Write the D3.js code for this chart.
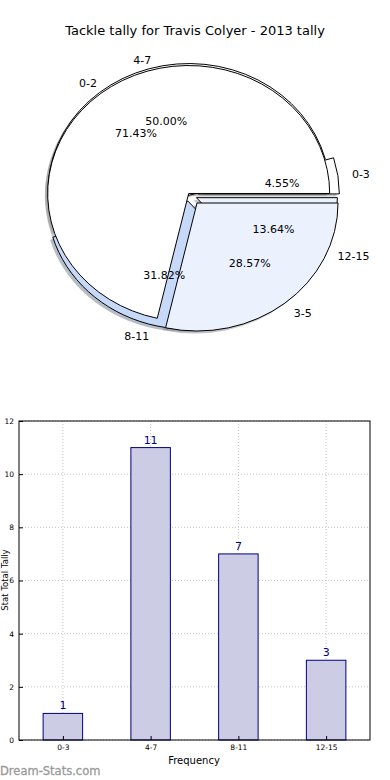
<!DOCTYPE html>
<html>
<head>
<meta charset="utf-8">
<script src="https://cdn.jsdelivr.net/npm/d3@7"></script>
<style>
  body { margin: 0; background: #fff; }
  svg { display: block; font-family: "DejaVu Sans", sans-serif; }
</style>
</head>
<body>
<svg id="chart" width="390" height="780"></svg>
<script>
// bar data
const categories = ["0-3", "4-7", "8-11", "12-15"];
const tallies = [1, 11, 7, 3];
const yTicks = [0, 2, 4, 6, 8, 10, 12];

// the older pie drawn on top (left over in the original image)
const oldCategories = ["0-2", "3-5"];
const oldTallies = [5, 2];

// colours / explode per slice
const newColors = ["#ffffff", "#ffffff", "#c6d9f9", "#ebf1fd"];
const newExplode = [0.06, 0, 0.05, 0.05];
const oldColors = ["#ffffff", "#ebf1fd"];
const oldExplode = [0.015, 0.08];

const svg = d3.select("#chart");

svg.append("text")
   .attr("x", 195).attr("y", 35)
   .attr("text-anchor", "middle")
   .attr("font-size", 13)
   .text("Tackle tally for Travis Colyer - 2013 tally");

// ---- pie part ----
const cx = 190, cy = 195, rx = 141, ry = 128;

function slices(values, colors, explode, labels) {
  const pie = d3.pie().sort(null).startAngle(Math.PI / 2).endAngle(Math.PI / 2 - 2 * Math.PI);
  const total = d3.sum(values);
  return pie(values).map((d, i) => {
    const mid = Math.PI / 2 - (d.startAngle + d.endAngle) / 2; // matplotlib angle
    const ex = explode[i];
    return {
      arc: d, color: colors[i], label: labels[i],
      pct: (100 * values[i] / total).toFixed(2) + "%",
      cos: Math.cos(mid), sin: Math.sin(mid),
      ox: ex * Math.cos(mid), oy: -ex * Math.sin(mid)
    };
  });
}

const newSlices = slices(tallies, newColors, newExplode, categories);
const oldSlices = slices(oldTallies, oldColors, oldExplode, oldCategories);
const allSlices = newSlices.concat(oldSlices);

const unitArc = d3.arc().innerRadius(0).outerRadius(1);
const pieG = svg.append("g").attr("transform", `translate(${cx},${cy}) scale(${rx},${ry})`);

// shadows first
pieG.selectAll(".shadow")
    .data(allSlices)
    .enter()
    .append("path")
    .attr("class", "shadow")
    .attr("transform", d => `translate(${d.ox - 0.02},${d.oy + 0.02})`)
    .attr("d", d => unitArc(d.arc))
    .attr("fill", d => d3.color(d.color).darker(1.6))
    .attr("fill-opacity", 0.5)
    .attr("stroke", "none");

pieG.selectAll(".wedge")
    .data(allSlices)
    .enter()
    .append("path")
    .attr("class", "wedge")
    .attr("transform", d => `translate(${d.ox},${d.oy})`)
    .attr("d", d => unitArc(d.arc))
    .attr("fill", d => d.color)
    .attr("stroke", "#000")
    .attr("stroke-width", 1)
    .attr("vector-effect", "non-scaling-stroke");

const labelG = svg.append("g").attr("font-size", 11);
labelG.selectAll(".lbl")
      .data(allSlices)
      .enter()
      .append("text")
      .attr("x", d => cx + (d.ox + 1.1 * d.cos) * rx + (d.cos > 0 ? 0 : 5))
      .attr("y", d => cy + (d.oy - 1.1 * d.sin) * ry)
      .attr("dy", "0.35em")
      .attr("text-anchor", d => d.cos > 0 ? "start" : "end")
      .text(d => d.label);

labelG.selectAll(".pct")
      .data(allSlices)
      .enter()
      .append("text")
      .attr("x", d => cx + (d.ox + 0.6 * d.cos) * rx)
      .attr("y", d => cy + (d.oy - 0.6 * d.sin) * ry)
      .attr("dy", "0.35em")
      .attr("text-anchor", "middle")
      .text(d => d.pct);

// ---- bar part ----
const plotL = 19, plotR = 370, plotT = 421, plotB = 740;
const x = d3.scaleLinear().domain([-0.5, 3.5]).range([plotL, plotR]);
const y = d3.scaleLinear().domain([0, 12]).range([plotB, plotT]);

const grid = svg.append("g").attr("stroke", "#c4c4c4").attr("stroke-dasharray", "1,2");
grid.selectAll(".gy").data(yTicks).enter().append("line")
    .attr("x1", plotL).attr("x2", plotR)
    .attr("y1", d => y(d)).attr("y2", d => y(d));
grid.selectAll(".gx").data(categories).enter().append("line")
    .attr("x1", (d, i) => x(i)).attr("x2", (d, i) => x(i))
    .attr("y1", plotT).attr("y2", plotB);

const bw = x(0.45) - x(0);
svg.selectAll(".bar")
   .data(tallies)
   .enter()
   .append("rect")
   .attr("x", (d, i) => x(i) - bw / 2)
   .attr("y", d => y(d))
   .attr("width", bw)
   .attr("height", d => plotB - y(d))
   .attr("fill", "#ccccE5")
   .attr("stroke", "#000080")
   .attr("stroke-width", 1);

svg.selectAll(".val")
   .data(tallies)
   .enter()
   .append("text")
   .attr("x", (d, i) => x(i))
   .attr("y", d => y(d) - 4)
   .attr("text-anchor", "middle")
   .attr("font-size", 11)
   .attr("fill", "#000080")
   .text(d => d);

// axes
const yAxis = d3.axisLeft(y).tickValues(yTicks).tickSize(-4).tickPadding(5);
svg.append("g").attr("transform", `translate(${plotL},0)`).call(yAxis)
   .call(g => g.selectAll("text").attr("font-size", 7.5).attr("font-family", "DejaVu Sans"))
   .call(g => g.select(".domain").remove());
const xAxis = d3.axisBottom(x).tickValues([0, 1, 2, 3]).tickFormat(i => categories[i]).tickSize(-4).tickPadding(5);
svg.append("g").attr("transform", `translate(0,${plotB})`).call(xAxis)
   .call(g => g.selectAll("text").attr("font-size", 7.5).attr("font-family", "DejaVu Sans"))
   .call(g => g.select(".domain").remove());

svg.append("rect")
   .attr("x", plotL).attr("y", plotT)
   .attr("width", plotR - plotL).attr("height", plotB - plotT)
   .attr("fill", "none").attr("stroke", "#000").attr("stroke-width", 1);

svg.append("text")
   .attr("x", 194).attr("y", 764)
   .attr("text-anchor", "middle")
   .attr("font-size", 10)
   .text("Frequency");

svg.append("text")
   .attr("transform", "translate(8,580) rotate(-90)")
   .attr("text-anchor", "middle")
   .attr("font-size", 8.5)
   .text("Stat Total Tally");

svg.append("text")
   .attr("x", 0).attr("y", 775)
   .attr("font-size", 11.5)
   .attr("fill", "#9a9a9a")
   .attr("stroke", "#9a9a9a")
   .attr("stroke-width", 0.3)
   .text("Dream-Stats.com");
</script>
</body>
</html>
